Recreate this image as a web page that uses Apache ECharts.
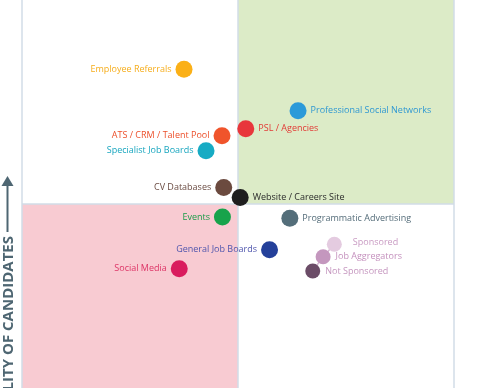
<!DOCTYPE html>
<html>
<head>
<meta charset="utf-8">
<script src="https://cdn.jsdelivr.net/npm/echarts@6/dist/echarts.min.js"></script>
<style>html,body{margin:0;padding:0;background:#fff}#c{width:492px;height:388px}</style>
</head>
<body>
<div id="c"></div>
<script>
// Data (x = cost/effort axis 0-100, y = quality of candidates; quadrant split at 50/50)
var names = ["Employee Referrals","Professional Social Networks","PSL / Agencies","ATS / CRM / Talent Pool","Specialist Job Boards","CV Databases","Website / Careers Site","Events","Programmatic Advertising","General Job Boards","Social Media"];
var xVals = [37.5, 63.9, 51.8, 46.3, 42.6, 46.7, 50.5, 46.4, 62.0, 57.3, 36.4];
var yVals = [81.2, 71.6, 67.4, 65.8, 62.3, 53.8, 51.5, 47.0, 46.7, 39.4, 35.0];
var aggNames = ["Sponsored","Job Aggregators","Not Sponsored"];
var aggX = [72.3, 69.7, 67.3];
var aggY = [40.7, 37.8, 34.5];
var yAxisTitle = "QUALITY OF CANDIDATES";
var yMin = 7.41, yMax = 97.22; // visible (cropped) range of the quality axis

// Styles
var dotColors = ["#fbb017","#2b9ad9","#e8363b","#f0542b","#17abc4","#6b4a3f","#1e1e1e","#17a34b","#546e7a","#24409a","#d91c5e"];
var labelColors = ["#f6ad1c","#2f98d2","#e23a35","#ec4f2a","#18a6bf","#6a4b42","#2a2a2a","#1a9c48","#546c79","#4f55ad","#dd3466"];
var labelSide = ["left","right","right","left","left","left","right","left","right","left","left"];
var aggDot = ["#e4cbe0","#c497be","#6b4c67"];
var aggLabel = ["#c99bc3","#c490bd","#c596bf"];

var main = names.map(function(n,i){
  return {name:n, value:[xVals[i], yVals[i]], itemStyle:{color:dotColors[i], opacity:1},
    label:{show:true, position:labelSide[i], distance:4, color:labelColors[i], formatter:n}};
});
var agg = aggNames.map(function(n,i){
  return {name:n, value:[aggX[i], aggY[i]], itemStyle:{color:aggDot[i], opacity:1},
    label:{show:true, position:'right', distance:(i===0?11:5), offset:(i===0?[0,-2]:[0,0]), color:aggLabel[i], formatter:n}};
});

var chart = echarts.init(document.getElementById('c'));
chart.setOption({
  animation:false,
  grid:{left:22, right:38, top:0, bottom:0},
  xAxis:{type:'value', min:0, max:100, show:false},
  yAxis:{type:'value', min:yMin, max:yMax, show:false},
  series:[
    {type:'scatter', data:[], silent:true, z:0, zlevel:0,
     markArea:{silent:true, z:0, data:[
       [{coord:[50,50], itemStyle:{color:'#dcebc7', opacity:1}},{coord:[100,yMax]}],
       [{coord:[0,yMin], itemStyle:{color:'#f8cbd2', opacity:1}},{coord:[50,50]}]
     ]},
     markLine:{silent:true, z:0, symbol:'none', label:{show:false},
       lineStyle:{color:'#d2dde7', width:1.5, type:'solid', opacity:1},
       data:[{xAxis:0},{xAxis:50},{xAxis:100},{yAxis:50}]}
    },
    {type:'line', data:aggX.map(function(x,i){return [x,aggY[i]];}), symbol:'none',
     lineStyle:{color:'#d6b7d2', width:1.5}, silent:true, z:2},
    {type:'scatter', symbolSize:17, data:main, z:5,
     label:{fontFamily:'Open Sans', fontSize:9}},
    {type:'scatter', symbolSize:15, data:agg, z:5,
     label:{fontFamily:'Open Sans', fontSize:9}}
  ],
  graphic:[
    {type:'line', shape:{x1:7.5,y1:232,x2:7.5,y2:184}, style:{stroke:'#4e6672', lineWidth:2}},
    {type:'polygon', shape:{points:[[1.5,186],[13.5,186],[7.5,176]]}, style:{fill:'#4e6672'}},
    {type:'text', x:8.5, y:236, rotation:Math.PI/2,
     style:{text:yAxisTitle, fill:'#4e6672', font:'bold 15px "Open Sans"', align:'right', verticalAlign:'middle'}}
  ]
});
</script>
</body>
</html>
